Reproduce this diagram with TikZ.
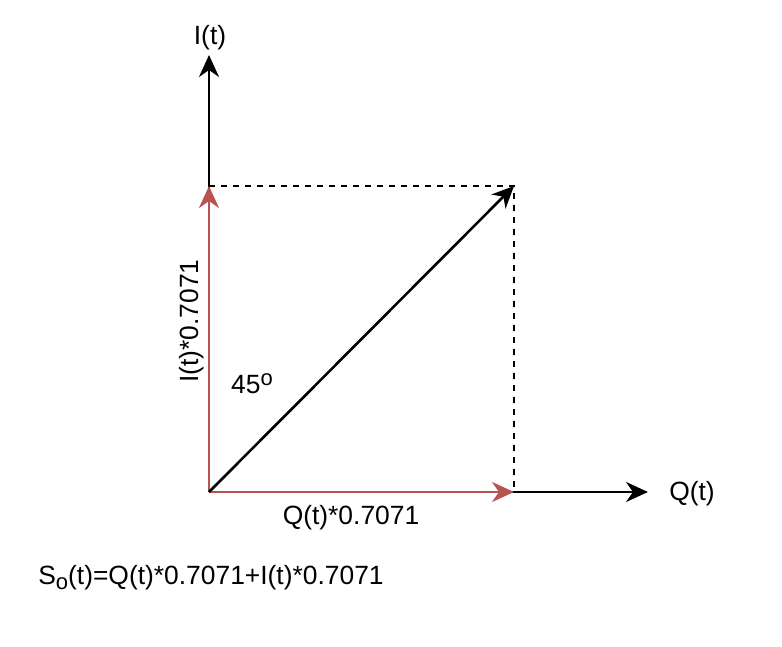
\documentclass[tikz,border=0pt]{standalone}
\usepackage{fontspec}
\setmainfont{Liberation Sans}
\usetikzlibrary{arrows.meta}
\definecolor{vecRed}{RGB}{184,84,80}
\newcommand{\smallidx}[1]{{\fontsize{11}{13}\selectfont #1}}

\begin{document}
\begin{tikzpicture}[x=0.5pt, y=-0.5pt, font=\fontsize{13.2}{16}\selectfont, line width=1.3pt,
  >={Stealth[length=11pt, width=10pt, inset=3.5pt]}]
\useasboundingbox (0,0) rectangle (782,647);
\coordinate (orig) at (209,492);
\coordinate (itop) at (209,55);
\coordinate (qend) at (648,492);
\coordinate (ipart) at (209,186);
\coordinate (qpart) at (514,492);
\coordinate (corner) at (514,186);
\draw[->] (orig) -- (itop);
\draw[->] (orig) -- (qend);
\draw[dash pattern=on 3pt off 3pt] (ipart) -- (corner) -- (qpart);
\draw[->, vecRed] (orig) -- (ipart);
\draw[->, vecRed] (orig) -- (qpart);
\draw[->] (orig) -- (corner);
\node (ilabel) at (210,38) {I(t)};
\node (qlabel) at (692,494) {Q(t)};
\node (qvalue) at (351,518) {Q(t)*0.7071};
\node[rotate=90] (ivalue) at (192,321) {I(t)*0.7071};
\node (angle) at (252,384) {45\raisebox{0.55ex}{\smallidx{o}}};
\node[anchor=west, inner sep=0pt] (sum) at (37,578) {S\raisebox{-0.35ex}{\smallidx{o}}(t)=Q(t)*0.7071+I(t)*0.7071};
\end{tikzpicture}
\end{document}
